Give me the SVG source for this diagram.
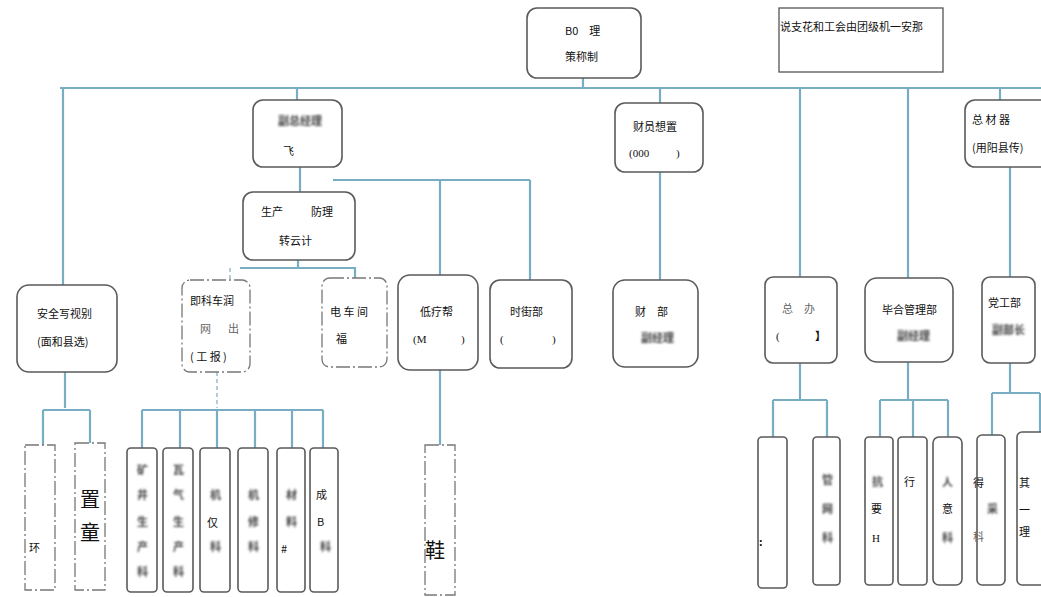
<svg xmlns="http://www.w3.org/2000/svg" width="1041" height="597" viewBox="0 0 1041 597">
<defs>
<filter id="blur" x="-20%" y="-50%" width="140%" height="200%"><feGaussianBlur stdDeviation="0.9"/></filter>
<style>
.n{fill:#fff;stroke:#5a5a5a;stroke-width:1.6}
.d{fill:#fff;stroke:#777;stroke-width:1.3;stroke-dasharray:14 3 2 3}
.c{fill:none;stroke:#78adc3;stroke-width:2.2}
.cd{fill:none;stroke:#9abccb;stroke-width:1.5;stroke-dasharray:4 3}
text{font-family:"Noto Sans CJK SC","Liberation Sans",sans-serif;font-size:11px;fill:#111}
.b{filter:url(#blur);fill:#444;font-weight:bold}
.g{fill:#666}
.L{font-size:20px;font-family:"Noto Sans CJK SC",serif}
.s{font-family:"Liberation Serif","Noto Sans CJK SC",serif}
</style>
</defs>
<rect width="1041" height="597" fill="#fff"/>
<g id="connectors">
<path class="c" d="M583 78V88M60 88H1041"/>
<path class="c" d="M63 88V285M297 88V100M660 88V103M800 88V277M908 88V278M1000 88V100"/>
<path class="c" d="M300 167V192M333 180H530M440 180V275M530 180V280"/>
<path class="c" d="M660 172V280M1010 167V277"/>
<path class="c" d="M298 260V268H240M298 268H355V278"/>
<path class="cd" d="M230 268V280"/>
<path class="c" d="M65 372V408M43 410H90M43 410V445M90 410V443"/>
<path class="cd" d="M217 372V408"/>
<path class="c" d="M142 410H323M142 410V448M180 410V448M217 410V448M255 410V448M292 410V448M323 410V448"/>
<path class="c" d="M440 370V448"/>
<path class="c" d="M800 363V400M773 400H827M773 400V437M827 400V437"/>
<path class="c" d="M908 362V400M880 400H948M880 400V437M913 400V437M948 400V437"/>
<path class="c" d="M1010 363V393M992 393H1040M992 393V435M1040 393V432"/>
</g>
<g id="n-top"><rect class="n" x="527" y="8" width="114" height="70" rx="10"/><text x="565" y="35">B0　理</text><text x="565" y="61">策称制</text></g>
<g id="n-note"><rect x="779" y="8" width="164" height="64" fill="#fff" stroke="#555" stroke-width="1.3"/><text x="780" y="31">说支花和工会由团级机一安那</text></g>
<g id="n-fuzong"><rect class="n" x="253" y="100" width="89" height="67" rx="10"/><text class="b" x="278" y="125" font-size="10">副总经理</text><text x="283" y="155">飞</text></g>
<g id="n-shengchan"><rect class="n" x="243" y="192" width="112" height="68" rx="10"/><text x="261" y="216">生产</text><text x="311" y="216">防理</text><text x="279" y="245">转云计</text></g>
<g id="n-caiyuan"><rect class="n" x="615" y="103" width="88" height="69" rx="10"/><text x="633" y="131">财员想置</text><text class="s" x="629" y="157">(000</text><text class="s" x="676" y="157">)</text></g>
<g id="n-zongcai"><rect class="n" x="965" y="100" width="90" height="67" rx="10"/><text x="972" y="124">总 材 器</text><text x="972" y="152">(用阳县传)</text></g>
<g id="n-anquan"><rect class="n" x="17" y="285" width="100" height="87" rx="12"/><text x="37" y="318">安全写视别</text><text x="37" y="346" font-size="10">(面和县选)</text></g>
<g id="n-jike"><rect class="d" x="182" y="280" width="68" height="92" rx="8"/><text x="190" y="305">即科车润</text><text x="200" y="333" class="g">网</text><text x="228" y="333" class="g">出</text><text x="190" y="361">( 工 报 )</text></g>
<g id="n-dianche"><rect class="d" x="322" y="278" width="65" height="89" rx="8"/><text x="330" y="316">电 车 间</text><text x="336" y="343">福</text></g>
<g id="n-diliao"><rect class="n" x="398" y="275" width="80" height="95" rx="12"/><text x="420" y="316">低疗帮</text><text class="s" x="413" y="343">(M</text><text class="s" x="461" y="343">)</text></g>
<g id="n-shijie"><rect class="n" x="490" y="280" width="82" height="88" rx="10"/><text x="510" y="316">时街部</text><text class="s" x="500" y="343">(</text><text class="s" x="552" y="343">)</text></g>
<g id="n-caiwu"><rect class="n" x="613" y="280" width="85" height="87" rx="12"/><text x="635" y="316">财　部</text><text class="b" x="641" y="342" font-size="9">副经理</text></g>
<g id="n-zongban"><rect class="n" x="765" y="277" width="72" height="86" rx="8"/><text x="782" y="313" class="g">总　办</text><text x="776" y="340" class="s">(</text><text x="815" y="340" font-weight="bold">】</text></g>
<g id="n-biguan"><rect class="n" x="865" y="278" width="88" height="84" rx="12"/><text x="882" y="314">毕合管理部</text><text class="b" x="897" y="340" font-size="9">副经理</text></g>
<g id="n-danggong"><rect class="n" x="982" y="277" width="53" height="86" rx="8"/><text x="988" y="307">党工部</text><text class="b" x="992" y="334" font-size="9">副部长</text></g>
<g id="b1"><rect class="d" x="25" y="445" width="30" height="145"/><text x="29" y="552">环</text></g>
<g id="b2"><rect class="d" x="75" y="443" width="30" height="147"/><text class="L" x="80" y="507">置</text><text class="L" x="80" y="540">童</text></g>
<g id="b3"><rect class="n" x="127" y="448" width="30" height="144" rx="4"/><text class="b" x="137" y="474" font-size="9">矿</text><text class="b" x="137" y="499" font-size="9">井</text><text class="b" x="137" y="526" font-size="9">生</text><text class="b" x="137" y="551" font-size="9">产</text><text class="b" x="137" y="576" font-size="9">科</text></g>
<g id="b4"><rect class="n" x="163" y="448" width="30" height="144" rx="4"/><text class="b" x="173" y="474" font-size="9">瓦</text><text class="b" x="173" y="499" font-size="9">气</text><text class="b" x="173" y="526" font-size="9">生</text><text class="b" x="173" y="551" font-size="9">产</text><text class="b" x="173" y="576" font-size="9">科</text></g>
<g id="b5"><rect class="n" x="200" y="448" width="30" height="144" rx="4"/><text class="b" x="210" y="499" font-size="9">机</text><text x="207" y="527" font-size="15">仅</text><text class="b" x="210" y="551" font-size="9">科</text></g>
<g id="b6"><rect class="n" x="238" y="448" width="30" height="144" rx="4"/><text class="b" x="248" y="499" font-size="9">机</text><text class="b" x="248" y="526" font-size="9">修</text><text class="b" x="248" y="551" font-size="9">科</text></g>
<g id="b7"><rect class="n" x="277" y="448" width="28" height="144" rx="4"/><text class="b" x="286" y="499" font-size="9">材</text><text class="b" x="286" y="526" font-size="9">料</text><text x="281" y="553" font-size="10">#</text></g>
<g id="b8"><rect class="n" x="310" y="448" width="28" height="144" rx="4"/><text x="316" y="499">成</text><text x="317" y="526" font-family="Liberation Sans">B</text><text class="b" x="320" y="551" font-size="9">科</text></g>
<g id="b9"><rect class="d" x="425" y="445" width="30" height="150"/><text class="L" x="425" y="558" font-size="22">鞋</text></g>
<g id="b10"><rect class="n" x="758" y="437" width="29" height="151" rx="4"/><text x="759" y="546" font-weight="bold">:</text></g>
<g id="b11"><rect class="n" x="813" y="437" width="27" height="148" rx="4"/><text class="b" x="822" y="484" font-size="9">管</text><text class="b" x="822" y="513" font-size="9">网</text><text class="b" x="822" y="542" font-size="9">科</text></g>
<g id="b12"><rect class="n" x="865" y="437" width="28" height="148" rx="4"/><text class="b" x="872" y="486" font-size="10">抗</text><text x="871" y="513" font-size="10">要</text><text class="s" x="872" y="542" font-size="10">H</text></g>
<g id="b13"><rect class="n" x="898" y="437" width="29" height="148" rx="4"/><text x="904" y="486" font-size="10">行</text></g>
<g id="b14"><rect class="n" x="933" y="437" width="29" height="148" rx="6"/><text class="b" x="942" y="486" font-size="10">人</text><text x="942" y="513" font-size="10">意</text><text class="b" x="942" y="542" font-size="9">科</text></g>
<g id="b15"><rect class="n" x="977" y="435" width="28" height="150" rx="5"/><text x="973" y="487" font-size="10">得</text><text class="b" x="987" y="513" font-size="9">采</text><text class="g" x="973" y="541" font-size="10">科</text></g>
<g id="b16"><rect class="n" x="1017" y="432" width="40" height="153" rx="5"/><text x="1019" y="487" font-size="15">其</text><text x="1019" y="514" font-size="15">一</text><text x="1019" y="536" font-size="15">理</text></g>
</svg>
